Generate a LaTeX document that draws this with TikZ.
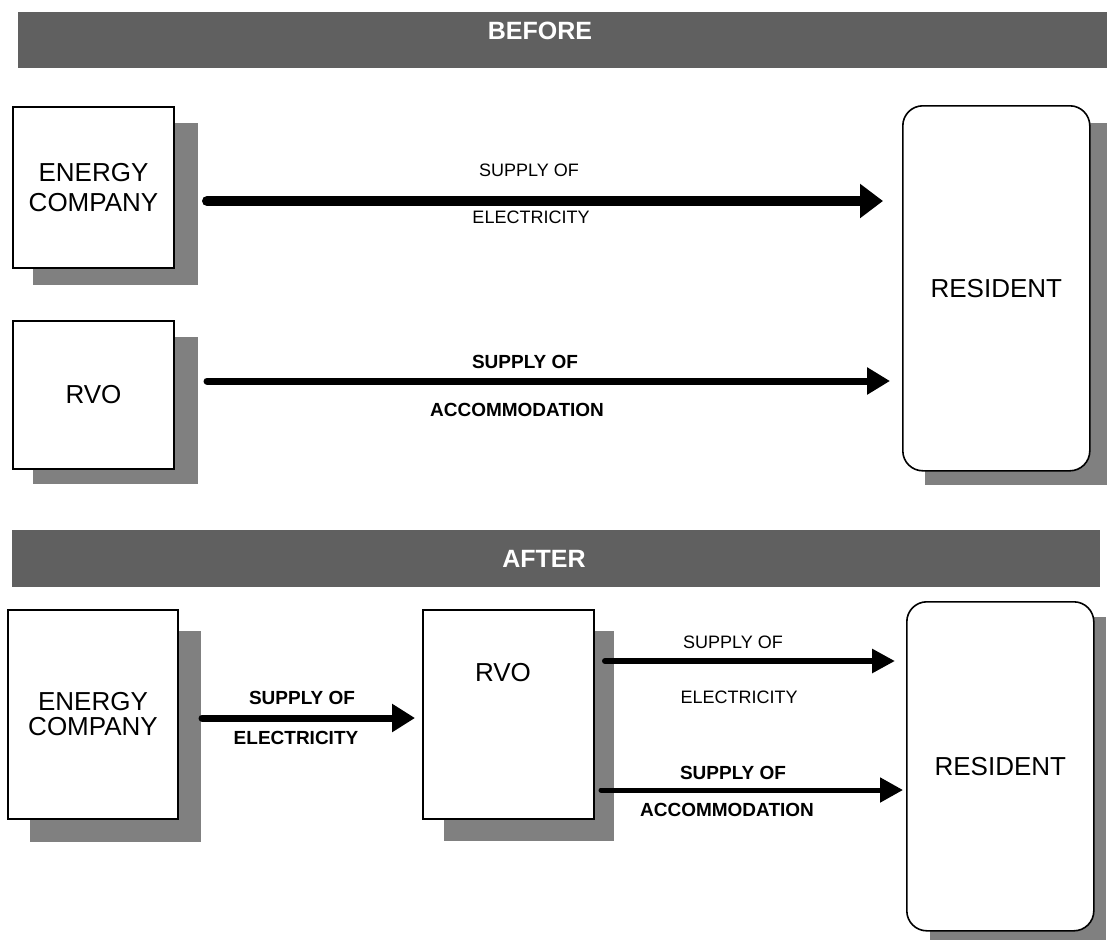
\documentclass[tikz,border=0pt]{standalone}
\usepackage{fontspec}
\setmainfont{Liberation Sans}
\usetikzlibrary{arrows.meta,backgrounds,calc}
\definecolor{barc}{HTML}{606060}
\definecolor{shc}{HTML}{808080}
\begin{document}
\begin{tikzpicture}[x=1pt,y=-1pt,
  box/.style={draw=black,line width=2pt,fill=white,anchor=north west,inner sep=0pt,align=center,font=\fontsize{26}{30}\selectfont},
  rbox/.style={box,rounded corners=20pt,line width=1.6pt},
  bar/.style={fill=barc,draw=none,anchor=north west,inner sep=0pt},
  bartext/.style={text=white,font=\bfseries\fontsize{25}{25}\selectfont},
  txt/.style={font=\fontsize{26}{30}\selectfont,inner sep=0pt},
  lbl/.style={font=\fontsize{18}{18}\selectfont,inner sep=0pt},
  blbl/.style={font=\bfseries\fontsize{19}{19}\selectfont,inner sep=0pt},
  arr/.style={line cap=round,-{Triangle[length=23pt,width=#1]}},
]
\useasboundingbox (0,0) rectangle (1107,940);

% ---------- BEFORE ----------
\node[bar,minimum width=1089pt,minimum height=56pt] (bbar) at (18,12) {};
\node[bartext] (btxt) at (540,31) {BEFORE};

\node[box,minimum width=161pt,minimum height=161pt] (ec1) at (12,106) {ENERGY\\COMPANY};
\node[box,minimum width=161pt,minimum height=148pt] (rvo1) at (12,320) {RVO};
\node[rbox,minimum width=187pt,minimum height=365pt] (res1) at (902,105) {RESIDENT};

\begin{scope}[on background layer]
  \fill[shc] ([shift={(21,17)}]ec1.north west) rectangle ([shift={(23,16)}]ec1.south east);
  \fill[shc] ([shift={(21,17)}]rvo1.north west) rectangle ([shift={(23,14)}]rvo1.south east);
  \fill[shc] ([shift={(23,18)}]res1.north west) rectangle ([shift={(20,13)}]res1.south east);
\end{scope}

\draw[arr=33pt,line width=10pt] ([xshift=32pt,yshift=-13.5pt]ec1.east) coordinate (a1s) -- ([xshift=-19pt]a1s -| res1.west) coordinate (a1e);
\node[lbl] (l1a) at (529,170) {SUPPLY OF};
\node[lbl] (l1b) at (531,217) {ELECTRICITY};

\draw[arr=26pt,line width=7pt] ([xshift=32pt,yshift=14pt]rvo1.east) coordinate (a2s) -- ([xshift=-12pt]a2s -| res1.west) coordinate (a2e);
\node[blbl] (l2a) at (525,362) {SUPPLY OF};
\node[blbl] (l2b) at (517,410) {ACCOMMODATION};

% ---------- AFTER ----------
\node[bar,minimum width=1088pt,minimum height=57pt] (abar) at (12,530) {};
\node[bartext] (atxt) at (544,559) {AFTER};

\node[box,minimum width=170pt,minimum height=209pt,font=\fontsize{26}{25}\selectfont] (ec2) at (7,609) {ENERGY\\COMPANY};
\node[box,minimum width=171pt,minimum height=209pt] (rvo2) at (422,609) {};
\node[txt] (rvo2t) at (503,673) {RVO};
\node[rbox,minimum width=187pt,minimum height=329pt] (res2) at (906,601) {RESIDENT};

\begin{scope}[on background layer]
  \fill[shc] ([shift={(23,22)}]ec2.north west) rectangle ([shift={(22,22)}]ec2.south east);
  \fill[shc] ([shift={(22,22)}]rvo2.north west) rectangle ([shift={(19,21)}]rvo2.south east);
  \fill[shc] ([shift={(24,16)}]res2.north west) rectangle ([shift={(11,8)}]res2.south east);
\end{scope}

\draw[arr=27pt,line width=7pt] ([xshift=23pt,yshift=-3.5pt]ec2.east) coordinate (a3s) -- ([xshift=-7pt]a3s -| rvo2.west) coordinate (a3e);
\node[blbl] (l3a) at (302,698) {SUPPLY OF};
\node[blbl] (l3b) at (296,738) {ELECTRICITY};

\draw[arr=23pt,line width=6pt] ([xshift=10pt,yshift=53.5pt]rvo2.east) coordinate (a4s) -- ([xshift=-11pt]a4s -| res2.west) coordinate (a4e);
\node[lbl] (l4a) at (733,642) {SUPPLY OF};
\node[lbl] (l4b) at (739,697) {ELECTRICITY};

\draw[arr=24pt,line width=5pt] ([xshift=6pt,yshift=-75.5pt]rvo2.east) coordinate (a5s) -- ([xshift=-3pt]a5s -| res2.west) coordinate (a5e);
\node[blbl] (l5a) at (733,773) {SUPPLY OF};
\node[blbl] (l5b) at (727,810) {ACCOMMODATION};
\end{tikzpicture}
\end{document}
